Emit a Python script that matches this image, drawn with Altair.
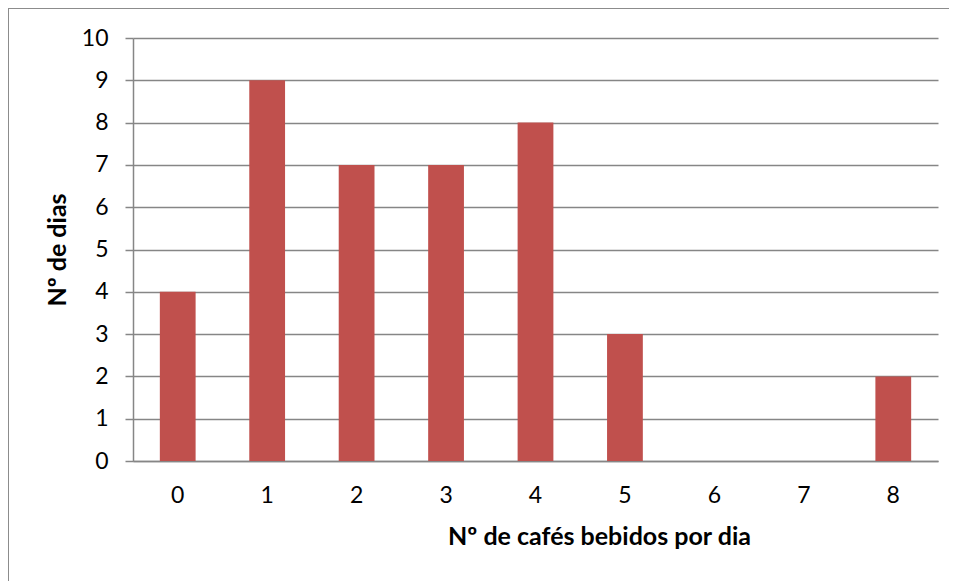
import altair as alt
import pandas as pd

cafes = ["0", "1", "2", "3", "4", "5", "6", "7", "8"]
dias = [4, 9, 7, 7, 8, 3, 0, 0, 2]

df = pd.DataFrame({"cafes": cafes, "dias": dias})

W, H = 805, 423
FONT = "Lato"

bars = alt.Chart(df).mark_bar(color="#C0504D").encode(
    x=alt.X("cafes:O", sort=cafes,
            scale=alt.Scale(paddingInner=0.6, paddingOuter=0.3),
            axis=alt.Axis(title="Nº de cafés bebidos por dia", labelAngle=0,
                          ticks=False, tickSize=0, labelPadding=34,
                          labelBaseline="middle",
                          titleX=466, titleY=75, titleBaseline="middle",
                          titleAlign="center")),
    y=alt.Y("dias:Q", scale=alt.Scale(domain=[0, 10], nice=False),
            axis=alt.Axis(title="Nº de dias", values=list(range(11)),
                          tickSize=8, labelPadding=17,
                          titleX=-76, titleY=H / 2, titleBaseline="middle",
                          titleAngle=-90, titleAlign="center")),
)

border = alt.Chart(df).mark_rect(fill=None, stroke="#8c8c8c", strokeWidth=2, clip=False).encode(
    x=alt.value(-125), x2=alt.value(W + 60), y=alt.value(-30), y2=alt.value(H + 200)
)

chart = alt.layer(border, bars).properties(
    width=W, height=H,
    autosize=alt.AutoSizeParams(type="none"),
    padding={"left": 125, "top": 30, "right": 11, "bottom": 120},
).configure_view(stroke=None).configure_axis(
    labelFont=FONT, titleFont=FONT, labelFontSize=23, titleFontSize=25,
    titleFontWeight="bold", labelColor="#000", titleColor="#000",
    domainColor="#868686", tickColor="#868686", gridColor="#868686",
    domainWidth=1.5, tickWidth=1.5, gridWidth=1.5,
).configure_axisX(grid=False).configure_axisY(grid=True, domain=True)

chart.save("out.html", embed_options={"renderer": "svg", "actions": False})
